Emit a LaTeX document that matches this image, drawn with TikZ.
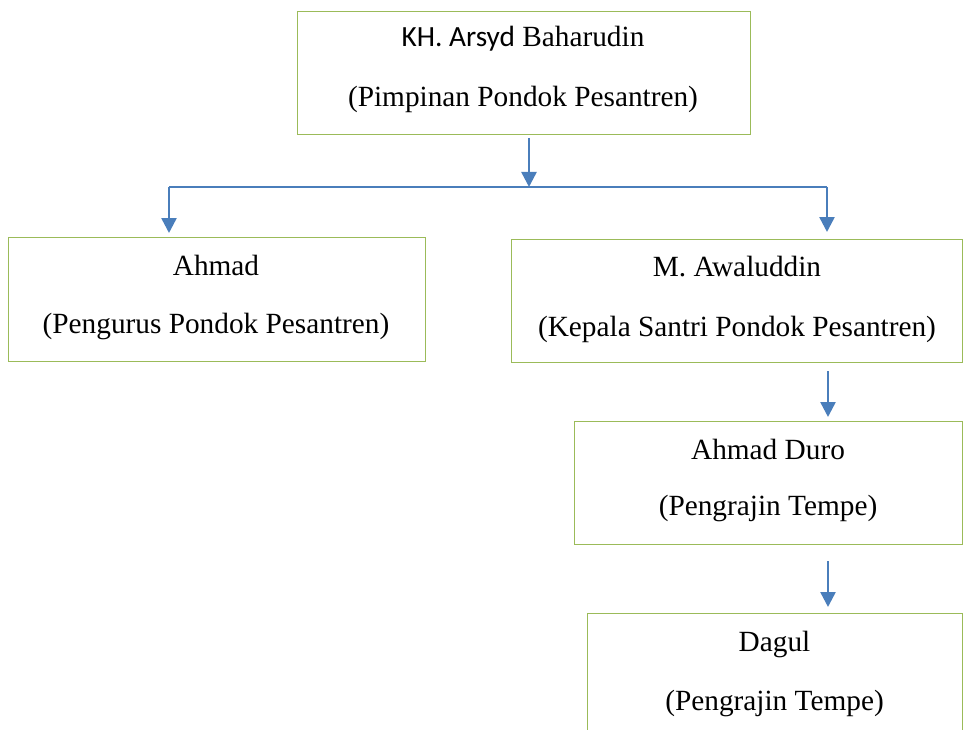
\documentclass[tikz,border=0pt]{standalone}
\usepackage{fontspec}
\setmainfont{Liberation Serif}
\newfontfamily\calibfont{Carlito}
\usetikzlibrary{arrows.meta}
\definecolor{boxgreen}{RGB}{155,187,89}
\definecolor{arrowblue}{RGB}{74,126,187}
\begin{document}
\begin{tikzpicture}[x=1pt,y=-1pt,
  box/.style={draw=boxgreen,line width=1.4pt,inner sep=0pt,anchor=north west},
  lbl/.style={anchor=base,inner sep=0pt,font=\fontsize{29.3}{32}\selectfont},
  conn/.style={draw=arrowblue,line width=2.5pt},
  arr/.style={conn,-{Triangle[width=15pt,length=15pt]}}]
\useasboundingbox (0,0) rectangle (963,730);
\clip (0,0) rectangle (963,730);
% boxes
\node[box,minimum width=453pt,minimum height=123pt] (top) at (297,11) {};
\node[box,minimum width=417pt,minimum height=124pt] (ahmad) at (8,237) {};
\node[box,minimum width=451pt,minimum height=123pt] (awal) at (511,239) {};
\node[box,minimum width=388pt,minimum height=123pt] (duro) at (574,421) {};
\node[box,minimum width=375pt,minimum height=140pt] (dagul) at (587,613) {};
% labels
\node[lbl] (top1) at (523,47) {{\calibfont KH. Arsyd} Baharudin};
\node[lbl] (top2) at (523,107) {(Pimpinan Pondok Pesantren)};
\node[lbl] (ahmad1) at (216,275) {Ahmad};
\node[lbl] (ahmad2) at (216,333) {(Pengurus Pondok Pesantren)};
\node[lbl] (awal1) at (737,276) {M. Awaluddin};
\node[lbl] (awal2) at (737,336) {(Kepala Santri Pondok Pesantren)};
\node[lbl] (duro1) at (768,459) {Ahmad Duro};
\node[lbl] (duro2) at (768,515) {(Pengrajin Tempe)};
\node[lbl] (dagul1) at (774.5,651) {Dagul};
\node[lbl] (dagul2) at (774.5,710) {(Pengrajin Tempe)};
% connectors
\coordinate (t1) at (529,138);
\coordinate (bm) at (529,187);
\coordinate (bl) at (169,187);
\coordinate (br) at (827,187);
\coordinate (d1) at (828,371);
\coordinate (g1) at (828,561);
\draw[conn] (bl) -- (br);
\draw[arr] (t1) -- (bm);
\draw[arr,shorten >=4pt] (bl) -- (bl |- ahmad.north);
\draw[arr,shorten >=7pt] (br) -- (br |- awal.north);
\draw[arr,shorten >=4pt] (d1) -- (d1 |- duro.north);
\draw[arr,shorten >=6pt] (g1) -- (g1 |- dagul.north);
\end{tikzpicture}
\end{document}
